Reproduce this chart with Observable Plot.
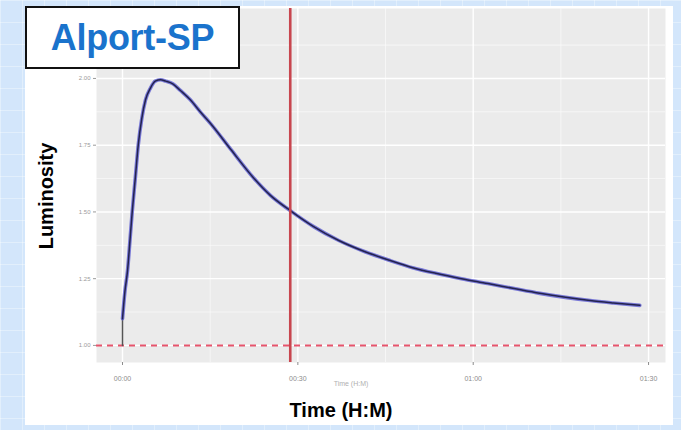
<!DOCTYPE html>
<html>
<head>
<meta charset="utf-8">
<script src="https://cdn.jsdelivr.net/npm/d3@7"></script>
<script src="https://cdn.jsdelivr.net/npm/@observablehq/plot@0.6"></script>
<style>
  html, body { margin: 0; padding: 0; }
  body {
    width: 681px; height: 430px; position: relative; overflow: hidden;
    background-color: #d3e6fb;
    background-image:
      linear-gradient(rgba(255,255,255,0.35) 1px, transparent 1px),
      linear-gradient(90deg, rgba(255,255,255,0.35) 1px, transparent 1px);
    background-size: 22px 22px;
    font-family: "Liberation Sans", Arial, sans-serif;
  }
  #panel { position: absolute; left: 25px; top: 6px; width: 648px; height: 419px; background: #fff; }
  #chart { position: absolute; left: 0; top: 0; }
  #title {
    position: absolute; left: 0px; top: 0px; width: 211px; height: 59px;
    border: 2px solid #111; background: #fff; box-sizing: content-box;
    color: #1a73cc; font-weight: bold; font-size: 36px; line-height: 59px; text-align: center;
    letter-spacing: -0.3px;
  }
  #ylabel {
    position: absolute; left: 21px; top: 190px; transform: translate(-50%, -50%) rotate(-90deg);
    font-weight: bold; font-size: 20px; color: #000; white-space: nowrap;
  }
  #xlabel {
    position: absolute; left: 316px; top: 404px; transform: translate(-50%, -50%);
    font-weight: bold; font-size: 20px; color: #000; white-space: nowrap;
  }
  #smalllabel {
    position: absolute; left: 326px; top: 374px; transform: translateX(-50%);
    font-size: 7px; line-height: 8px; color: #b0b0b0; white-space: nowrap;
  }
</style>
</head>
<body>
<div id="panel">
  <div id="chart"></div>
  <div id="title">Alport-SP</div>
  <div id="ylabel">Luminosity</div>
  <div id="smalllabel">Time (H:M)</div>
  <div id="xlabel">Time (H:M)</div>
</div>
<script>
// Time in minutes since start, luminosity ratio
const riseMinutes = [0, 0];
const riseLum = [1.00, 1.10];

const minutes = [0, 0.4, 0.86, 1.3, 1.66, 2.2, 2.69, 3.3, 3.94, 4.8, 5.6, 6.5, 7.4, 8.6, 9.9, 11.6, 13.3, 15.1, 18.5, 22.4, 25.3, 28.7, 32.7, 37, 41.6, 45.5, 49.8, 53.6, 58, 62.5, 67, 71.4, 75.8, 80, 84, 88.5];
const luminosity = [1.10, 1.20, 1.28, 1.40, 1.50, 1.63, 1.75, 1.85, 1.92, 1.965, 1.99, 1.995, 1.99, 1.98, 1.955, 1.92, 1.875, 1.83, 1.735, 1.628, 1.562, 1.505, 1.445, 1.393, 1.35, 1.32, 1.29, 1.27, 1.25, 1.232, 1.213, 1.195, 1.18, 1.168, 1.159, 1.15];

const xTicks = [0, 30, 60, 90];
const xTickLabels = ["00:00", "00:30", "01:00", "01:30"];
const xMinor = [15, 45, 75];
const yTicks = [1.00, 1.25, 1.50, 1.75, 2.00];
const yMinor = [1.125, 1.375, 1.625, 1.875, 2.125];
const markerTime = [28.7];
const baseline = [1.00];

const curve = minutes.map((m, i) => ({m, v: luminosity[i]}));
const rise = riseMinutes.map((m, i) => ({m, v: riseLum[i]}));

const chart = Plot.plot({
  width: 648,
  height: 385,
  marginLeft: 71,
  marginRight: 8,
  marginTop: 2,
  marginBottom: 29,
  x: {domain: [-4.45, 92.9]},
  y: {domain: [0.936, 2.262]},
  style: {fontFamily: "Liberation Sans, Arial, sans-serif", background: "transparent"},
  marks: [
    Plot.frame({fill: "#ebebeb", stroke: null}),
    Plot.ruleX(xMinor, {stroke: "#fafafa", strokeWidth: 0.7}),
    Plot.ruleY(yMinor, {stroke: "#fafafa", strokeWidth: 0.7}),
    Plot.ruleX(xTicks, {stroke: "#ffffff", strokeWidth: 1.4}),
    Plot.ruleY(yTicks, {stroke: "#ffffff", strokeWidth: 1.4}),
    Plot.ruleY(baseline, {stroke: "#e6546c", strokeWidth: 2, strokeDasharray: "6,5"}),
    Plot.line(rise, {x: "m", y: "v", stroke: "#555", strokeWidth: 1.5}),
    Plot.line(curve, {x: "m", y: "v", stroke: "#6464d2", strokeWidth: 3.6, strokeOpacity: 0.85, curve: "monotone-x"}),
    Plot.line(curve, {x: "m", y: "v", stroke: "#23234e", strokeWidth: 1.5, curve: "monotone-x"}),
    Plot.ruleX(markerTime, {stroke: "#c8464f", strokeWidth: 2.6}),
    Plot.axisX({ticks: xTicks, tickFormat: (d) => xTickLabels[xTicks.indexOf(d)], tickSize: 3, tickPadding: 11, fontSize: 7, color: "#8c8c8c", label: null}),
    Plot.axisY({ticks: yTicks, tickFormat: (d) => d.toFixed(2), tickSize: 3, tickPadding: 3, fontSize: 6, color: "#9a9a9a", label: null})
  ]
});
document.getElementById("chart").appendChild(chart);
</script>
</body>
</html>
